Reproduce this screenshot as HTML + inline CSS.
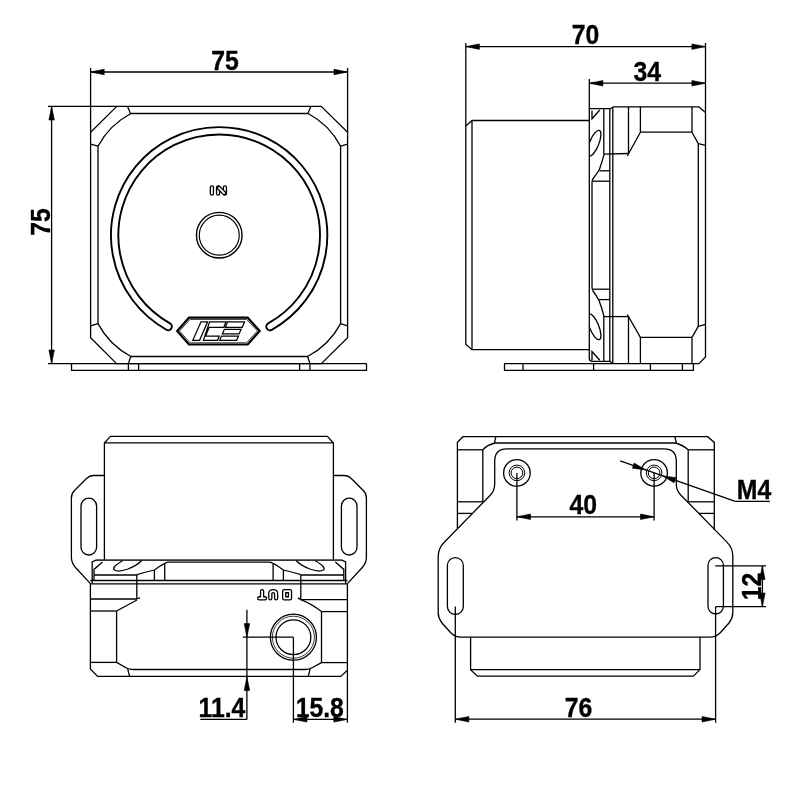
<!DOCTYPE html>
<html><head><meta charset="utf-8"><style>
html,body{margin:0;padding:0;background:#fff;width:800px;height:800px;overflow:hidden}
svg{display:block}
text{font-family:"Liberation Sans",sans-serif;font-weight:bold}
svg{will-change:transform}
</style></head><body>
<svg width="800" height="800" viewBox="0 0 800 800">
<defs>
<clipPath id="cf"><rect x="589.9" y="100" width="30" height="280"/></clipPath>
<clipPath id="cs"><rect x="80" y="560.2" width="280" height="30"/></clipPath>
</defs>
<g fill="none" stroke="#000" stroke-width="1.3">
<line x1="90.6" y1="68.0" x2="90.6" y2="132.3"/>
<line x1="347.6" y1="68.0" x2="347.6" y2="132.3"/>
<line x1="90.6" y1="72.0" x2="347.6" y2="72.0"/>
<path fill="#000" stroke-width="0.6" d="M90.6,72.0 L104.2,69.2 L104.2,74.8 Z"/>
<path fill="#000" stroke-width="0.6" d="M347.6,72.0 L334.0,74.8 L334.0,69.2 Z"/>
<text transform="translate(225 70) scale(0.9 1)" font-size="27.5" text-anchor="middle" fill="#000" stroke="#000" stroke-width="0.35">75</text>
<line x1="48.0" y1="106.4" x2="117.0" y2="106.4"/>
<line x1="48.0" y1="363.6" x2="366.5" y2="363.6"/>
<line x1="51.6" y1="106.4" x2="51.6" y2="363.6"/>
<path fill="#000" stroke-width="0.6" d="M51.6,106.4 L54.4,120.0 L48.9,120.0 Z"/>
<path fill="#000" stroke-width="0.6" d="M51.6,363.6 L48.9,350.0 L54.4,350.0 Z"/>
<text transform="translate(49.5 222) rotate(-90) scale(0.9 1)" font-size="27.5" text-anchor="middle" fill="#000" stroke="#000" stroke-width="0.35">75</text>
<path d="M116.8,106.4 L321.2,106.4 L347.6,132.3 L347.6,337.8 L321.3,363.6 L116.6,363.6 L90.6,337.8 L90.6,132.3 Z"/>
<path d="M98.0,146.2 Q109.4,124.8 131,113.5 Q133,113.5 136,113.5 L303,113.5 Q306,113.5 308,113.5 Q329.4,124.8 340.6,146.2 L340.6,323.6 Q329.2,345.1 307.5,356.5 Q305.5,356.5 302.5,356.5 L136,356.5 Q133,356.5 131,356.5 Q109.4,345.1 98.0,323.6 Z"/>
<line x1="127.6" y1="106.4" x2="130.6" y2="113.8"/>
<line x1="90.6" y1="144.2" x2="98.0" y2="146.2"/>
<line x1="310.8" y1="106.4" x2="307.8" y2="113.8"/>
<line x1="347.6" y1="144.2" x2="340.6" y2="146.2"/>
<line x1="340.6" y1="323.6" x2="347.6" y2="325.8"/>
<line x1="307.6" y1="356.3" x2="309.9" y2="363.6"/>
<line x1="309.9" y1="363.6" x2="309.9" y2="370.3"/>
<line x1="98.0" y1="323.6" x2="90.6" y2="325.8"/>
<line x1="130.8" y1="356.3" x2="128.4" y2="363.6"/>
<line x1="128.4" y1="363.6" x2="128.4" y2="370.3"/>
<path d="M71.5,363.6 L71.5,370.3 L366.5,370.3 L366.5,363.6"/>
<line x1="138.6" y1="363.6" x2="138.6" y2="370.3"/>
<line x1="299.6" y1="363.6" x2="299.6" y2="370.3"/>
<path d="M269.97,326.61 A104.5,104.5 0 1 0 168.17,326.52" stroke-width="9.25" stroke-linecap="round"/>
<path d="M269.97,326.61 A104.5,104.5 0 1 0 168.17,326.52" stroke="#fff" stroke-width="5.45" stroke-linecap="round"/>
<circle cx="219.25" cy="235.2" r="22.8" stroke-width="1.4"/>
<circle cx="219.25" cy="235.2" r="20.0" stroke-width="1.2"/>
<path d="M211.9,187.4 L211.9,193.5" stroke-width="4.4" stroke-linecap="round" stroke-linejoin="round"/>
<path d="M211.9,187.4 L211.9,193.5" stroke="#fff" stroke-width="1.8" stroke-linecap="round" stroke-linejoin="round"/>
<path d="M218.1,187.4 L218.1,193.5" stroke-width="4.4" stroke-linecap="round" stroke-linejoin="round"/>
<path d="M218.1,187.4 L218.1,193.5" stroke="#fff" stroke-width="1.8" stroke-linecap="round" stroke-linejoin="round"/>
<path d="M224.9,187.4 L224.9,193.5" stroke-width="4.4" stroke-linecap="round" stroke-linejoin="round"/>
<path d="M224.9,187.4 L224.9,193.5" stroke="#fff" stroke-width="1.8" stroke-linecap="round" stroke-linejoin="round"/>
<path d="M218.9,187.9 L224.1,193.0" stroke-width="4.4" stroke-linecap="round" stroke-linejoin="round"/>
<path d="M218.9,187.9 L224.1,193.0" stroke="#fff" stroke-width="1.8" stroke-linecap="round" stroke-linejoin="round"/>
<path d="M177.2,330.9 L189.0,317.7 L247.7,317.7 L259.7,330.9 L247.7,344.5 L189.0,344.5 Z" stroke-width="2.2"/>
<path d="M179.5,330.9 L190.1,319.4 L246.6,319.4 L257.4,330.9 L246.6,342.8 L190.1,342.8 Z" stroke-width="0.8"/>
<path d="M201.0,321.8 L207.6,321.8 L199.6,340.3 L192.8,340.3 Z" stroke-width="1.25"/>
<path d="M209.6,321.8 L226.1,321.8 L223.8,327.3 L209.2,327.3 L205.6,336.0 L219.2,336.0 L217.6,340.3 L203.4,340.3 Z" stroke-width="1.25"/>
<path d="M227.6,321.8 L244.6,321.8 L242.2,327.3 L225.3,327.3 Z" stroke-width="1.25"/>
<path d="M224.4,329.3 L241.1,329.3 L239.1,333.9 L222.4,333.9 Z" stroke-width="1.25"/>
<path d="M221.5,336.0 L238.5,336.0 L236.6,340.3 L219.7,340.3 Z" stroke-width="1.25"/>
<line x1="465.8" y1="43.0" x2="465.8" y2="126.0"/>
<line x1="705.5" y1="43.0" x2="705.5" y2="112.0"/>
<line x1="465.8" y1="46.6" x2="705.5" y2="46.6"/>
<path fill="#000" stroke-width="0.6" d="M465.8,46.6 L479.4,43.9 L479.4,49.4 Z"/>
<path fill="#000" stroke-width="0.6" d="M705.5,46.6 L691.9,49.4 L691.9,43.9 Z"/>
<text transform="translate(585.4 44.3) scale(0.9 1)" font-size="27.5" text-anchor="middle" fill="#000" stroke="#000" stroke-width="0.35">70</text>
<line x1="589.3" y1="79.0" x2="589.3" y2="108.7"/>
<line x1="589.3" y1="83.2" x2="705.5" y2="83.2"/>
<path fill="#000" stroke-width="0.6" d="M589.3,83.2 L602.9,80.5 L602.9,86.0 Z"/>
<path fill="#000" stroke-width="0.6" d="M705.5,83.2 L691.9,86.0 L691.9,80.5 Z"/>
<text transform="translate(647.3 81) scale(0.9 1)" font-size="27.5" text-anchor="middle" fill="#000" stroke="#000" stroke-width="0.35">34</text>
<path d="M589.3,120.5 L472.0,120.5 L465.8,126.0 L465.8,344.2 L472.0,349.7 L589.3,349.7"/>
<line x1="472.0" y1="120.5" x2="472.0" y2="349.7"/>
<path d="M612.8,106.9 L699.0,106.9 L705.5,112.5 L705.5,357.0 L699.0,363.6"/>
<path d="M612.8,106.9 L610.6,108.7 L589.3,108.7 L589.3,358.3 Q589.3,361.3 592.3,361.3 L609.8,361.3 L612.8,363.6"/>
<line x1="612.8" y1="106.9" x2="612.8" y2="363.4"/>
<line x1="609.8" y1="108.7" x2="609.8" y2="361.5"/>
<line x1="603.8" y1="108.7" x2="603.8" y2="154.1"/>
<line x1="603.8" y1="316.6" x2="603.8" y2="361.5"/>
<line x1="628.5" y1="106.9" x2="628.5" y2="153.5"/>
<line x1="628.5" y1="316.6" x2="628.5" y2="363.4"/>
<line x1="640.4" y1="106.9" x2="640.4" y2="132.2"/>
<line x1="640.4" y1="337.4" x2="640.4" y2="363.4"/>
<line x1="692.0" y1="106.9" x2="692.0" y2="132.2"/>
<line x1="692.0" y1="337.4" x2="692.0" y2="363.4"/>
<line x1="640.4" y1="132.2" x2="692.0" y2="132.2"/>
<line x1="640.4" y1="337.4" x2="692.0" y2="337.4"/>
<line x1="640.4" y1="132.2" x2="627.3" y2="156.0"/>
<line x1="640.4" y1="337.4" x2="627.3" y2="314.5"/>
<line x1="603.8" y1="154.1" x2="628.5" y2="153.5"/>
<line x1="603.8" y1="316.6" x2="628.5" y2="316.6"/>
<path d="M692.0,132.2 L698.3,143.6 L698.3,326.3 L692.0,337.4"/>
<line x1="698.3" y1="143.6" x2="705.5" y2="145.4"/>
<line x1="698.3" y1="326.3" x2="705.5" y2="324.3"/>
<path d="M604.2,153.8 Q602,162 599.4,169.5 Q596,175 592.8,179 Q592,180.5 592,183 L592,287 Q592,289.5 593,291 Q596,295 599,300.5 Q602,308 604,316.5"/>
<line x1="599.4" y1="170.8" x2="609.8" y2="170.8"/>
<line x1="592.5" y1="181.2" x2="609.8" y2="181.2"/>
<line x1="598.8" y1="299.6" x2="609.8" y2="299.6"/>
<line x1="592.5" y1="289.2" x2="609.8" y2="289.2"/>
<path d="M599.8,110.0 L592.0,118.8 L592.0,110.5"/>
<path d="M599.8,360.3 L592.0,351.5 L592.0,360.5"/>
<g clip-path="url(#cf)"><ellipse cx="594.2" cy="143.2" rx="4.6" ry="13.8" transform="rotate(22 594.2 143.2)"/><ellipse cx="594.2" cy="326.8" rx="4.6" ry="13.8" transform="rotate(-22 594.2 326.8)"/></g>
<path d="M504.5,363.4 L504.5,370.4 L693.4,370.4 L693.4,363.4"/>
<line x1="504.5" y1="363.6" x2="699.0" y2="363.6"/>
<line x1="523.0" y1="363.4" x2="523.0" y2="370.4"/>
<line x1="593.6" y1="363.4" x2="593.6" y2="370.4"/>
<line x1="650.4" y1="363.4" x2="650.4" y2="370.4"/>
<line x1="682.4" y1="363.4" x2="682.4" y2="370.4"/>
<path d="M104.4,560.0 L104.4,443.0 L110.4,436.4 L327.4,436.4 L333.4,443.0 L333.4,560.0"/>
<line x1="104.4" y1="442.9" x2="333.4" y2="442.9" stroke-width="1.2"/>
<path d="M104.4,475.5 L93.5,475.5 Q89.5,475.5 86.5,478.5 L74.5,490.5 Q71.4,493.5 71.4,498 L71.4,557 Q71.4,563 75.5,567.5 L90.4,583.6"/>
<path d="M333.4,475.5 L344.3,475.5 Q348.3,475.5 351.3,478.5 L363.3,490.5 Q366.4,493.5 366.4,498 L366.4,557 Q366.4,563 362.3,567.5 L347.4,583.6"/>
<rect x="81" y="498.2" width="15.6" height="56.8" rx="7.8"/>
<rect x="341.4" y="498.2" width="15.6" height="56.8" rx="7.8"/>
<line x1="95.9" y1="560.1" x2="341.9" y2="560.1" stroke="#333" stroke-width="1.9"/>
<path d="M95.9,560.1 L92.2,561.8 L92.2,583.6"/>
<path d="M341.9,560.1 L345.6,561.8 L345.6,583.6"/>
<line x1="90.4" y1="580.5" x2="347.4" y2="580.5"/>
<line x1="90.4" y1="583.9" x2="347.4" y2="583.9"/>
<path d="M90.4,583.6 L90.4,669.0 L97.6,676.4 L340.8,676.4 L347.4,670.3 L347.4,583.6"/>
<line x1="90.4" y1="599.0" x2="137.0" y2="599.0"/>
<line x1="137.0" y1="599.0" x2="140.0" y2="597.6"/>
<line x1="90.4" y1="611.0" x2="116.6" y2="611.0"/>
<line x1="116.6" y1="611.0" x2="137.0" y2="600.0"/>
<line x1="116.6" y1="611.0" x2="116.6" y2="662.4"/>
<line x1="90.4" y1="662.4" x2="116.6" y2="662.4"/>
<path d="M116.6,662.4 L126,667.8 Q128.5,669.5 133,669.5 L305,669.5 Q309.5,669.5 312,667.8 L321.5,662.6"/>
<line x1="321.5" y1="662.6" x2="321.5" y2="611.6"/>
<line x1="321.5" y1="662.6" x2="347.4" y2="662.6"/>
<line x1="321.5" y1="611.6" x2="347.4" y2="611.6"/>
<line x1="300.8" y1="599.6" x2="347.4" y2="599.6"/>
<path d="M300.8,599.6 Q312,604 321.5,611.6"/>
<line x1="127.6" y1="668.6" x2="129.6" y2="676.4"/>
<line x1="310.2" y1="668.6" x2="308.2" y2="676.4"/>
<line x1="136.8" y1="575.0" x2="136.8" y2="599.0"/>
<line x1="300.8" y1="575.0" x2="300.8" y2="599.0"/>
<line x1="300.8" y1="599.6" x2="297.8" y2="597.9"/>
<line x1="94.0" y1="575.0" x2="137.0" y2="575.0"/>
<line x1="300.8" y1="575.0" x2="344.0" y2="575.0"/>
<path d="M137,574.6 Q146,572 154.4,570 Q160.5,565.5 164.7,563.4 Q166.5,562.2 169,562.2 L268.8,562.2 Q271.3,562.2 273.1,563.4 Q277.3,565.5 283.4,570 Q291.8,572 300.8,574.6" stroke-width="1.2"/>
<line x1="154.4" y1="570.0" x2="154.4" y2="580.5"/>
<line x1="164.7" y1="563.4" x2="164.7" y2="580.5"/>
<line x1="283.4" y1="570.0" x2="283.4" y2="580.5"/>
<line x1="273.1" y1="563.4" x2="273.1" y2="580.5"/>
<path d="M122.5,560.8 Q111,567.5 114.5,570 Q118,572.5 128,569 Q137,565.5 141.5,560.8"/>
<path d="M315.3,560.8 Q326.8,567.5 323.3,570 Q319.8,572.5 309.8,569 Q300.8,565.5 296.3,560.8"/>
<path d="M102.5,562.0 L94.0,569.4 L94.0,580.5"/>
<path d="M335.3,562.0 L343.8,569.4 L343.8,580.5"/>
<circle cx="293.4" cy="637.2" r="23" stroke-width="1.3"/>
<circle cx="293.4" cy="637.2" r="21" stroke-width="0.8"/>
<circle cx="293.4" cy="637.2" r="17.4" stroke-width="1.3"/>
<path d="M262.1,591.2 L262.1,598.3 M259.2,598.3 L265,598.3 M270.3,598.3 L270.3,593.6 Q270.3,591.2 273.2,591.2 Q276.1,591.2 276.1,593.6 L276.1,598.3 M284.2,591.2 L290,591.2 L290,598.3 L284.2,598.3 Z" stroke-width="4.4" stroke-linecap="round" stroke-linejoin="round"/>
<path d="M262.1,591.2 L262.1,598.3 M259.2,598.3 L265,598.3 M270.3,598.3 L270.3,593.6 Q270.3,591.2 273.2,591.2 Q276.1,591.2 276.1,593.6 L276.1,598.3 M284.2,591.2 L290,591.2 L290,598.3 L284.2,598.3 Z" stroke="#fff" stroke-width="1.8" stroke-linecap="round" stroke-linejoin="round"/>
<line x1="242.8" y1="637.2" x2="293.4" y2="637.2"/>
<line x1="246.9" y1="609.8" x2="246.9" y2="719.4"/>
<path fill="#000" stroke-width="0.6" d="M246.9,637.2 L244.2,623.6 L249.7,623.6 Z"/>
<path fill="#000" stroke-width="0.6" d="M246.9,677.0 L249.7,690.6 L244.2,690.6 Z"/>
<line x1="200.3" y1="719.4" x2="246.9" y2="719.4"/>
<text transform="translate(221.9 717.2) scale(0.9 1)" font-size="27.5" text-anchor="middle" fill="#000" stroke="#000" stroke-width="0.35">11.4</text>
<line x1="293.4" y1="637.2" x2="293.4" y2="722.7"/>
<line x1="347.4" y1="670.5" x2="347.4" y2="722.7"/>
<line x1="293.4" y1="719.4" x2="347.4" y2="719.4"/>
<path fill="#000" stroke-width="0.6" d="M293.4,719.4 L307.0,716.6 L307.0,722.1 Z"/>
<path fill="#000" stroke-width="0.6" d="M347.4,719.4 L333.8,722.1 L333.8,716.6 Z"/>
<text transform="translate(319.8 717.3) scale(0.9 1)" font-size="27.5" text-anchor="middle" fill="#000" stroke="#000" stroke-width="0.35">15.8</text>
<path d="M457.4,528.0 L457.4,442.2 L463.0,436.7 L707.6,436.7 L714.3,442.4 L714.3,530.0"/>
<line x1="457.4" y1="449.8" x2="482.8" y2="449.8"/>
<line x1="688.2" y1="449.8" x2="714.3" y2="449.8"/>
<line x1="457.4" y1="501.8" x2="482.8" y2="501.8"/>
<line x1="688.2" y1="501.8" x2="714.3" y2="501.8"/>
<line x1="457.4" y1="513.4" x2="472.0" y2="513.4"/>
<line x1="699.0" y1="513.4" x2="714.3" y2="513.4"/>
<line x1="482.8" y1="449.8" x2="482.8" y2="501.8"/>
<line x1="688.2" y1="449.8" x2="688.2" y2="501.8"/>
<path d="M482.8,449.8 Q487,445 495,443 L675.5,443 Q683,445 688.2,449.8"/>
<line x1="495.8" y1="436.7" x2="494.5" y2="443.0"/>
<line x1="674.8" y1="436.7" x2="676.4" y2="443.0"/>
<path d="M507,448.8 L664,448.8 Q676.3,448.8 676.3,461 L676.3,484 Q676.3,490.4 680.5,494.7 L726.5,541.6 Q732.8,548 732.8,556 L732.8,613 Q732.8,618 729,623 L720.5,632.5 Q716,637.2 710,637.2 L461,637.2 Q455,637.2 450.5,632.5 L442,623 Q438.2,618 438.2,613 L438.2,556 Q438.2,548.4 444.5,542 L490.5,495 Q494.7,490.7 494.7,484 L494.7,461 Q494.7,448.8 507,448.8 Z"/>
<rect x="447.4" y="557.6" width="15.9" height="56.8" rx="7.9"/>
<rect x="708" y="557.6" width="15.4" height="56.4" rx="7.7"/>
<path d="M470.6,637.2 L470.6,669.6 L477.4,676.1 L693.4,676.1 L700.0,669.6 L700.0,637.2"/>
<line x1="470.6" y1="669.6" x2="700.0" y2="669.6"/>
<circle cx="516.9" cy="472.9" r="13.3"/>
<circle cx="516.9" cy="472.9" r="7.8" stroke-width="1"/>
<circle cx="516.9" cy="472.9" r="5.8" stroke-width="1"/>
<circle cx="654.1" cy="472.9" r="13.3"/>
<circle cx="654.1" cy="472.9" r="7.8" stroke-width="1"/>
<circle cx="654.1" cy="472.9" r="5.8" stroke-width="1"/>
<line x1="516.9" y1="472.9" x2="516.9" y2="520.5"/>
<line x1="654.1" y1="472.9" x2="654.1" y2="520.5"/>
<line x1="516.9" y1="516.8" x2="654.1" y2="516.8"/>
<path fill="#000" stroke-width="0.6" d="M516.9,516.8 L530.5,514.0 L530.5,519.5 Z"/>
<path fill="#000" stroke-width="0.6" d="M654.1,516.8 L640.5,519.5 L640.5,514.0 Z"/>
<text transform="translate(583.2 514.4) scale(0.9 1)" font-size="27.5" text-anchor="middle" fill="#000" stroke="#000" stroke-width="0.35">40</text>
<line x1="620.2" y1="460.9" x2="735.3" y2="501.3"/>
<line x1="735.3" y1="501.3" x2="769.9" y2="501.3"/>
<path fill="#000" stroke-width="0.6" d="M645.6,469.9 L632.4,468.2 L634.2,463.0 Z"/>
<path fill="#000" stroke-width="0.6" d="M662.6,475.9 L675.8,477.6 L674.0,482.8 Z"/>
<text transform="translate(754 499.1) scale(0.9 1)" font-size="27.5" text-anchor="middle" fill="#000" stroke="#000" stroke-width="0.35">M4</text>
<line x1="715.2" y1="565.9" x2="766.0" y2="565.9"/>
<line x1="715.6" y1="606.6" x2="766.0" y2="606.6"/>
<line x1="762.4" y1="565.9" x2="762.4" y2="606.6"/>
<path fill="#000" stroke-width="0.6" d="M762.4,565.9 L765.1,579.5 L759.6,579.5 Z"/>
<path fill="#000" stroke-width="0.6" d="M762.4,606.6 L759.6,593.0 L765.1,593.0 Z"/>
<text transform="translate(760.5 586.5) rotate(-90) scale(0.9 1)" font-size="27.5" text-anchor="middle" fill="#000" stroke="#000" stroke-width="0.35">12</text>
<line x1="455.3" y1="606.4" x2="455.3" y2="722.7"/>
<line x1="715.6" y1="606.6" x2="715.6" y2="722.7"/>
<line x1="455.3" y1="719.2" x2="715.6" y2="719.2"/>
<path fill="#000" stroke-width="0.6" d="M455.3,719.2 L468.9,716.5 L468.9,722.0 Z"/>
<path fill="#000" stroke-width="0.6" d="M715.6,719.2 L702.0,722.0 L702.0,716.5 Z"/>
<text transform="translate(578.4 717) scale(0.9 1)" font-size="27.5" text-anchor="middle" fill="#000" stroke="#000" stroke-width="0.35">76</text>
</g>
</svg></body></html>
